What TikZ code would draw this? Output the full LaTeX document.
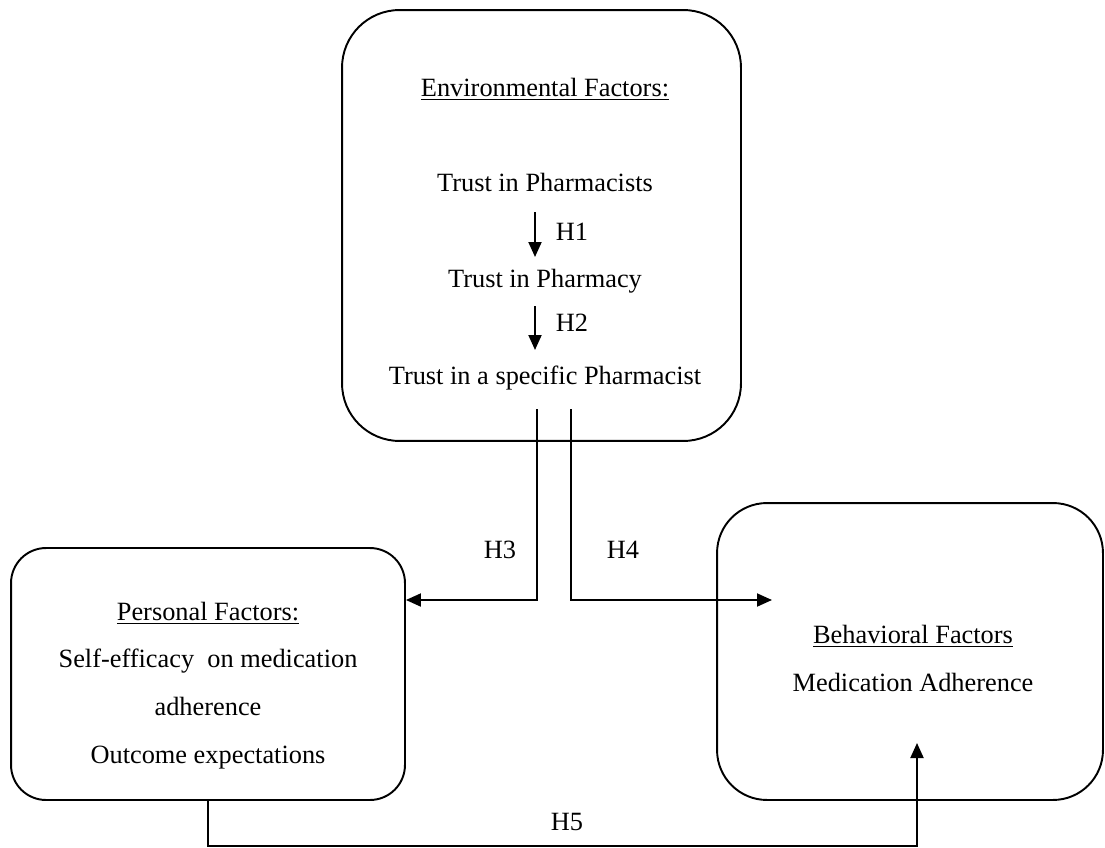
\documentclass[tikz,border=0pt]{standalone}
\usepackage{fontspec}
\setmainfont{Liberation Serif}
\usetikzlibrary{arrows.meta}
\usetikzlibrary{positioning}

\begin{document}
\begin{tikzpicture}[x=0.02cm, y=-0.02cm,
    factor/.style={draw, line width=1.1pt, inner sep=0pt},
    txt/.style={font=\fontsize{15}{18}\selectfont, inner sep=0pt, text height=10pt, text depth=0pt},
    arr/.style={line width=1.1pt, -{Triangle[length=0.3cm, width=0.26cm]}},
    ln/.style={line width=1.1pt}]
    \useasboundingbox (0, 0) rectangle (1105, 848);
    % the three factor boxes
    \node[factor, rounded corners=1.15cm, minimum width=7.98cm, minimum height=8.62cm] at (541.5, 225.5) (env) {};
    \node[factor, rounded corners=0.7cm, minimum width=7.88cm, minimum height=5.04cm] at (208, 674) (pers) {};
    \node[factor, rounded corners=1.0cm, minimum width=7.72cm, minimum height=5.94cm] at (910, 651.5) (behav) {};
    % environmental factors
    \node[txt] at (545, 88) (envT) {\underline{Environmental Factors:}};
    \node[txt] at (545, 183) (tPists) {Trust in Pharmacists};
    \node[txt] at (545, 279) (tPacy) {Trust in Pharmacy};
    \node[txt] at (545, 376) (tSpec) {Trust in a specific Pharmacist};
    \node[txt] at (572, 232) (H1) {H1};
    \node[txt] at (572, 323) (H2) {H2};
    \coordinate (a1s) at (535, 212);
    \coordinate (a1e) at (535, 257);
    \coordinate (a2s) at (535, 306);
    \coordinate (a2e) at (535, 350);
    \draw[arr] (a1s) -- (a1e);
    \draw[arr] (a2s) -- (a2e);
    % personal factors
    \node[txt] at (208, 612) (persT) {\underline{Personal Factors:}};
    \node[txt] at (208, 659) (selfEff) {Self-efficacy\ \ on medication};
    \node[txt] at (208, 707) (adh) {adherence};
    \node[txt] at (208, 755) (outExp) {Outcome expectations};
    % behavioral factors
    \node[txt] at (913, 635) (behavT) {\underline{Behavioral Factors}};
    \node[txt] at (913, 683) (medAdh) {Medication Adherence};
    % hypotheses H3 -- H5
    \coordinate (h3s) at (537, 409);
    \coordinate (h4s) at (571, 409);
    \coordinate (join) at (554, 600);
    \coordinate (h4e) at (772, 600);
    \coordinate (h5c) at (917, 846);
    \coordinate (h5e) at (917, 743);
    \draw[arr] (h3s) |- (pers.east |- join);
    \draw[arr] (h4s) |- (h4e);
    \draw[arr] (pers.south) -- (pers.south |- h5c) -- (h5c) -- (h5e);
    \node[txt] at (500, 550) (H3) {H3};
    \node[txt] at (623, 550) (H4) {H4};
    \node[txt] at (567, 822) (H5) {H5};
\end{tikzpicture}
\end{document}
